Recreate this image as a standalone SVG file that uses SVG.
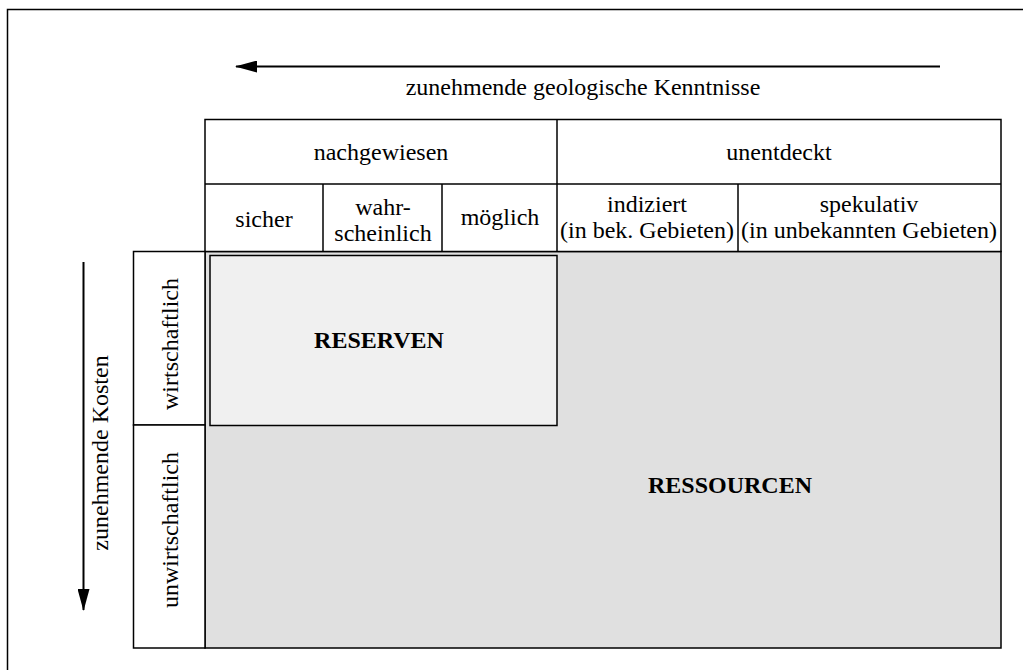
<svg xmlns="http://www.w3.org/2000/svg" width="1023" height="670" viewBox="0 0 1023 670">
<style>
text{font-family:"Liberation Serif","Times New Roman",serif;font-size:24px;fill:#000;text-anchor:middle}
.b{font-weight:bold}
.ln{stroke:#000;stroke-width:1.5;fill:none}
</style>
<defs>
<marker id="ah" viewBox="0 0 22 12" refX="21" refY="6" markerWidth="22" markerHeight="12" markerUnits="userSpaceOnUse" orient="auto">
<path d="M0,0 L22,6 L0,12 Z" fill="#000"/>
</marker>
</defs>
<rect width="1023" height="670" fill="#fff"/>
<rect x="7.5" y="9.5" width="1100" height="700" fill="none" stroke="#000" stroke-width="1.5"/>

<g id="ressourcen">
<rect x="205" y="251.5" width="796" height="396.5" fill="#e0e0e0" stroke="#000" stroke-width="1.5"/>
<text class="b" x="730" y="493">RESSOURCEN</text>
</g>
<g id="reserven">
<rect x="210" y="255.5" width="347" height="170" fill="#f0f0f0" stroke="#000" stroke-width="1.5"/>
<text class="b" x="379" y="348">RESERVEN</text>
</g>

<g id="header">
<rect x="205" y="119.5" width="796" height="132" fill="#fff" stroke="#000" stroke-width="1.5"/>
<line class="ln" x1="205" y1="184" x2="1001" y2="184"/>
<line class="ln" x1="557" y1="119.5" x2="557" y2="251.5"/>
<line class="ln" x1="323" y1="184" x2="323" y2="251.5"/>
<line class="ln" x1="442" y1="184" x2="442" y2="251.5"/>
<line class="ln" x1="738" y1="184" x2="738" y2="251.5"/>
</g>
<g id="nachgewiesen"><text x="381" y="160">nachgewiesen</text></g>
<g id="unentdeckt"><text x="779" y="160">unentdeckt</text></g>
<g id="sicher"><text x="264" y="227">sicher</text></g>
<g id="wahrscheinlich"><text x="383" y="215">wahr-</text><text x="383" y="241">scheinlich</text></g>
<g id="moeglich"><text x="500" y="225">möglich</text></g>
<g id="indiziert"><text x="647" y="212">indiziert</text><text x="647" y="238">(in bek. Gebieten)</text></g>
<g id="spekulativ"><text x="869" y="212">spekulativ</text><text x="869" y="238">(in unbekannten Gebieten)</text></g>

<g id="wirtschaftlich">
<rect x="133.5" y="251.5" width="71.5" height="173.5" fill="#fff" stroke="#000" stroke-width="1.5"/>
<text transform="translate(178,344) rotate(-90)">wirtschaftlich</text>
</g>
<g id="unwirtschaftlich">
<rect x="133.5" y="425" width="71.5" height="223" fill="#fff" stroke="#000" stroke-width="1.5"/>
<text transform="translate(178,530) rotate(-90)">unwirtschaftlich</text>
</g>

<g id="connectors">
<line x1="940" y1="66.5" x2="236" y2="66.5" stroke="#000" stroke-width="2" marker-end="url(#ah)"/>
<line x1="83.5" y1="262" x2="83.5" y2="610" stroke="#000" stroke-width="2" marker-end="url(#ah)"/>
</g>
<g id="labels">
<text x="583" y="95">zunehmende geologische Kenntnisse</text>
<text transform="translate(108,453) rotate(-90)">zunehmende Kosten</text>
</g>
</svg>
